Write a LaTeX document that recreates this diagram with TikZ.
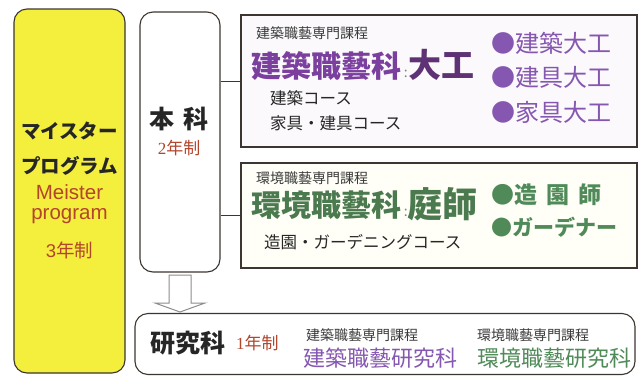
\documentclass[tikz,border=0pt]{standalone}
\usepackage{fontspec}
\setmainfont{Noto Sans CJK JP}
\newfontfamily\latsans{Liberation Sans}
\newfontfamily\latserif{Liberation Serif}
\definecolor{ylw}{HTML}{F4EE3C}
\definecolor{redb}{HTML}{B2452C}
\definecolor{purp}{HTML}{7B3F9E}
\definecolor{dpurp}{HTML}{5E3274}
\definecolor{bpurp}{HTML}{8657B0}
\definecolor{grn}{HTML}{4F8A58}
\definecolor{dgrn}{HTML}{4A7A4E}
\definecolor{txt}{HTML}{262626}
\definecolor{sub}{HTML}{3A3A3A}
\definecolor{edge}{HTML}{3D3630}
\newcommand{\fs}[1]{\fontsize{#1}{#1}\selectfont}
\begin{document}
\begin{tikzpicture}[x=1pt,y=-1pt,
  rbox/.style={draw=edge,line width=1.1pt,rounded corners=13pt,inner sep=0pt},
  sbox/.style={draw=edge,line width=1.1pt,inner sep=0pt},
  conn/.style={draw=edge,line width=0.9pt},
  tx/.style={inner sep=0pt,text=txt},
  lt/.style={tx,anchor=west},
  hdr/.style={lt,text=sub,font=\fs{14}},
  crs/.style={lt,font=\fs{16.5}},
  bulp/.style={lt,text=bpurp,font=\fs{24}},
  bulg/.style={lt,text=grn,font=\fs{23}\bfseries},
  hollow/.style={draw=gray!90,line width=1pt,fill=white,line join=miter}]
\useasboundingbox (0,0) rectangle (643,376);
\fill[white] (0,0) rectangle (643,376);
% boxes
\node[rbox,fill=ylw,minimum width=111pt,minimum height=364pt] (meister) at (69.5,191) {};
\node[rbox,fill=white,minimum width=80pt,minimum height=260pt] (honka) at (180,142) {};
\node[sbox,fill=purp!3,minimum width=396pt,minimum height=132pt] (top) at (439,81) {};
\node[sbox,fill=green!4!yellow!3,minimum width=396pt,minimum height=105pt] (mid) at (439,215.5) {};
\node[rbox,fill=white,minimum width=500pt,minimum height=61pt] (ken) at (385,344) {};
% connectors
\draw[conn] (honka.east |- top.west) -- (top.west);
\draw[conn] (honka.east |- mid.west) -- (mid.west);
% hollow arrow
\coordinate (atip) at (180,312);
\draw[hollow] (169,275) -- (169,303) -- (155,303) -- (atip) -- (205,303) -- (191,303) -- (191,275) -- cycle;
% left
\node[tx,font=\fs{19.5}\bfseries] (m1) at (69.5,131) {マイスター};
\node[tx,font=\fs{19.5}\bfseries] (m2) at (69.5,166) {プログラム};
\node[tx,text=redb,align=center,font=\latsans\fontsize{20.5}{20}\selectfont] (m3) at (69.5,204) {Meister\\program};
\node[tx,text=redb,font=\fs{18.5}] (m5) at (69.5,250) {{\latsans 3}年制};
% honka
\node[tx,font=\fs{25}\bfseries] (h1) at (179,119) {本\hspace{9pt}科};
\node[tx,text=redb,font=\fs{17}] (h2) at (179,148) {{\latserif 2}年制};
% top box
\node[hdr] (t0) at (256,33) {建築職藝専門課程};
\node[tx,anchor=base west,text=purp,font=\fs{30}\bfseries] (t1) at (251,77) {建築職藝科};
\node[tx,anchor=base west,text=gray,font=\fs{14}] (t2) at (t1.base east) {\,:};
\node[tx,anchor=base west,text=dpurp,font=\fs{33}\bfseries] (t3) at (408,77) {大工};
\node[crs] (t4) at (270,98) {建築コース};
\node[crs] (t5) at (270,123) {家具・建具コース};
\node[bulp] (b1) at (491,43) {●建築大工};
\node[bulp] (b2) at (491,77) {●建具大工};
\node[bulp] (b3) at (491,112) {●家具大工};
% mid box
\node[hdr] (g0) at (256,178) {環境職藝専門課程};
\node[tx,anchor=base west,text=dgrn,font=\fs{30}\bfseries] (g1) at (251,216.5) {環境職藝科};
\node[tx,anchor=base west,text=gray,font=\fs{14}] (g2) at (g1.base east) {\,:};
\node[tx,anchor=base west,text=dgrn,font=\fs{35}\bfseries] (g3) at (407,217) {庭師};
\node[crs] (g4) at (264,242) {造園・ガーデニングコース};
\node[bulg] (c1) at (491,195) {●造\hspace{9pt}園\hspace{9pt}師};
\node[bulg,font=\fs{21}\bfseries] (c2) at (491,227) {●ガーデナー};
% bottom
\node[lt,font=\fs{25}\bfseries] (k1) at (150,343) {研究科};
\node[lt,text=redb,font=\fs{17}] (k2) at (236,343) {{\latserif 1}年制};
\node[hdr] (k3) at (306,335) {建築職藝専門課程};
\node[lt,text=bpurp,font=\fs{22}] (k4) at (303,358) {建築職藝研究科};
\node[hdr] (k5) at (477,335) {環境職藝専門課程};
\node[lt,text=grn,font=\fs{22}] (k6) at (477,358) {環境職藝研究科};
\end{tikzpicture}
\end{document}
